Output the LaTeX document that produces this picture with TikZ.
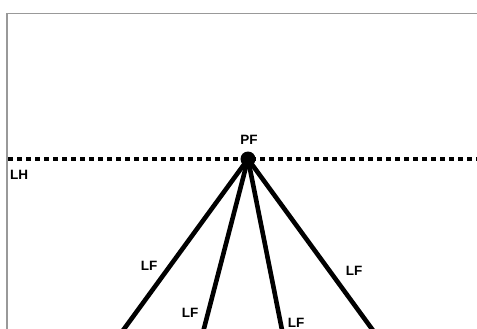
\documentclass[tikz,border=0pt]{standalone}
\usepackage{fontspec}
\setmainfont{Liberation Sans}
\begin{document}
\begin{tikzpicture}[x=1pt,y=-1pt,
  lbl/.style={font=\fontsize{13.5}{14}\selectfont\bfseries, inner sep=0pt},
  ray/.style={line width=4.6pt, black},
  horizon/.style={line width=4.6pt, dash pattern=on 4.6pt off 4.4pt},
  frame/.style={draw=gray!80, line width=1.6pt}]
\useasboundingbox (0,0) rectangle (477,329);
\clip (0,0) rectangle (477,329);
\draw[frame] (7,13.5) rectangle (490,340);
\coordinate (hl) at (8,159);
\coordinate (hr) at (480,159);
\draw[horizon] (hl) -- (hr);
\node[circle, fill=black, minimum size=15pt, inner sep=0pt] (pf) at (248,159) {};
\node[lbl] (pflabel) at (249,140) {PF};
\node[lbl, anchor=west] (lh) at (10,175) {LH};
\coordinate (e1) at (116,340);
\coordinate (e2) at (201,340);
\coordinate (e3) at (284,340);
\coordinate (e4) at (380,340);
\draw[ray] (pf.center) -- (e1);
\draw[ray] (pf.center) -- (e2);
\draw[ray] (pf.center) -- (e3);
\draw[ray] (pf.center) -- (e4);
\node[lbl] (lf1) at (149,266) {LF};
\node[lbl] (lf2) at (190,313) {LF};
\node[lbl] (lf3) at (296,323) {LF};
\node[lbl] (lf4) at (354,271) {LF};
\end{tikzpicture}
\end{document}
